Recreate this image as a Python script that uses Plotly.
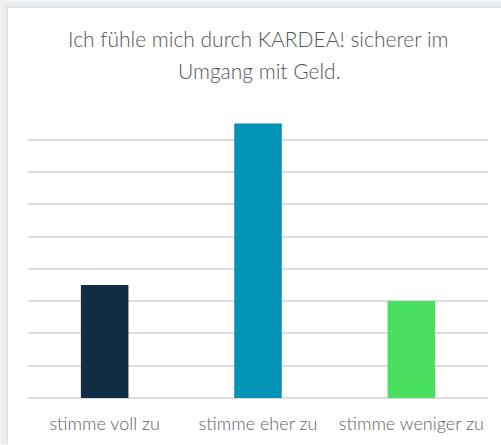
import plotly.graph_objects as go

categories = ["stimme voll zu", "stimme eher zu", "stimme weniger zu"]
values = [7, 17, 6]
colors = ["#122c43", "#0393b6", "#4bdf62"]
title_lines = ["Ich fühle mich durch KARDEA! sicherer im", "Umgang mit Geld."]

W, H = 501, 445
ml, mr, mt, mb = 27.5, 13, 106.7, 46.7
pw, ph = W - ml - mr, H - mt - mb

def px_x(p):
    return (p - ml) / pw

def px_y(p):
    return (H - mb - p) / ph

fig = go.Figure(go.Bar(
    x=categories, y=values, marker=dict(color=colors, line=dict(width=0)),
    hoverinfo="skip",
))

bg = "#ebeff2"
shapes = [
    dict(type="rect", xref="paper", yref="paper", x0=px_x(0), x1=px_x(W), y0=px_y(0), y1=px_y(6),
         fillcolor=bg, line=dict(width=0), layer="below"),
    dict(type="rect", xref="paper", yref="paper", x0=px_x(0), x1=px_x(6), y0=px_y(0), y1=px_y(H),
         fillcolor=bg, line=dict(width=0), layer="below"),
    dict(type="line", xref="paper", yref="paper", x0=px_x(6.5), x1=px_x(W), y0=px_y(6.5), y1=px_y(6.5),
         line=dict(color="#d8dcdf", width=1.5), layer="below"),
    dict(type="line", xref="paper", yref="paper", x0=px_x(6.5), x1=px_x(6.5), y0=px_y(6.5), y1=px_y(H),
         line=dict(color="#d8dcdf", width=1.5), layer="below"),
]

title_font = dict(family="Lato", size=21, color="#555555", weight=300)
annotations = [
    dict(text=title_lines[0], xref="paper", yref="paper", x=px_x(258), y=px_y(38),
         xanchor="center", yanchor="middle", showarrow=False, font=title_font),
    dict(text=title_lines[1], xref="paper", yref="paper", x=px_x(259), y=px_y(70),
         xanchor="center", yanchor="middle", showarrow=False, font=title_font),
]

fig.update_layout(
    width=W, height=H,
    margin=dict(l=ml, r=mr, t=mt, b=mb, pad=0),
    paper_bgcolor="white", plot_bgcolor="white",
    bargap=0.69,
    showlegend=False,
    shapes=shapes,
    annotations=annotations,
    font=dict(family="Lato"),
)
fig.update_xaxes(showline=False, ticks="", ticklabelstandoff=13,
                 tickfont=dict(family="Lato", size=18, color="#606060", weight=300),
                 showgrid=False)
fig.update_yaxes(range=[0, 18.02], tickvals=list(range(0, 19, 2)), showticklabels=False, showgrid=True,
                 gridcolor="#dcdcdc", gridwidth=1.5, zeroline=True, zerolinecolor="#dcdcdc",
                 zerolinewidth=1.5, ticks="")

fig.write_html("out.html", config={"displayModeBar": False},
               post_script="document.body.style.margin='0';document.body.style.padding='0';")
